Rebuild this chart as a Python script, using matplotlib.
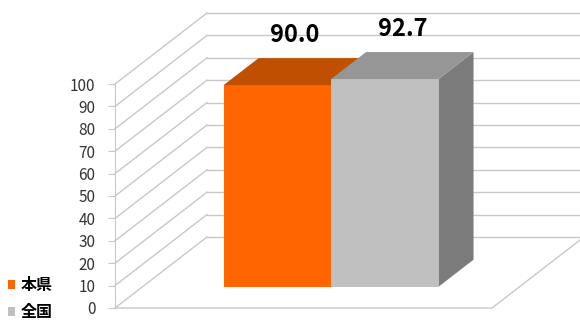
import matplotlib
matplotlib.use('Agg')
import matplotlib.pyplot as plt
from matplotlib.patches import Polygon, Rectangle

plt.rcParams['font.family'] = ['Noto Sans CJK JP', 'DejaVu Sans']

# データ
series = ['本県', '全国']
values = [90.0, 92.7]
labels = ['90.0', '92.7']
yticks = [0, 10, 20, 30, 40, 50, 60, 70, 80, 90, 100]

front_colors = ['#FF6600', '#C0C0C0']
top_colors = ['#C05000', '#969696']
side_colors = ['#C05000', '#7B7B7B']
grid_color = '#C8C8C8'

# 奥行き (x軸単位, 値単位)
DX = 92 / 377
DY = 31.7
f0, f1 = 0.30, 0.68   # 棒の奥行き位置
bar_w = 0.285

fig = plt.figure(figsize=(5.8, 3.2), dpi=100)
fig.patch.set_facecolor('white')
ax = fig.add_axes([115 / 580, 12 / 320, 377 / 580, 224 / 320])
ax.set_xlim(0, 1)
ax.set_ylim(0, 100)

# 壁と床
for v in yticks:
    ax.plot([0, DX], [v, v + DY], color=grid_color, lw=1, clip_on=False, zorder=0)
    ax.plot([DX, 1 + DX], [v + DY, v + DY], color=grid_color, lw=1, clip_on=False, zorder=0)
ax.plot([0, 1, 1 + DX], [0, 0, DY], color=grid_color, lw=1, clip_on=False, zorder=0)

# 棒
for i, (val, lab) in enumerate(zip(values, labels)):
    x0 = 0.5 - bar_w + i * bar_w
    x1 = x0 + bar_w
    ox0, oy0 = f0 * DX, f0 * DY
    ox1, oy1 = f1 * DX, f1 * DY
    front = Rectangle((x0 + ox0, oy0), bar_w, val, facecolor=front_colors[i],
                      edgecolor='none', clip_on=False, zorder=2 + i)
    top = Polygon([(x0 + ox0, val + oy0), (x1 + ox0, val + oy0),
                   (x1 + ox1, val + oy1), (x0 + ox1, val + oy1)],
                  facecolor=top_colors[i], edgecolor='none', clip_on=False, zorder=2 + i)
    side = Polygon([(x1 + ox0, oy0), (x1 + ox1, oy1),
                    (x1 + ox1, val + oy1), (x1 + ox0, val + oy0)],
                   facecolor=side_colors[i], edgecolor='none', clip_on=False, zorder=2 + i)
    ax.add_patch(side)
    ax.add_patch(front)
    ax.add_patch(top)
    cx = (x0 + x1) / 2 + (ox0 + ox1) / 2
    ax.text(cx, val + oy1 + 5, lab, ha='center', va='bottom', fontsize=17,
            fontweight='bold', color='black', clip_on=False)

# 軸
for s in ['top', 'right', 'bottom']:
    ax.spines[s].set_visible(False)
ax.spines['left'].set_color(grid_color)
ax.set_facecolor('none')
ax.set_xticks([])
ax.set_yticks(yticks)
ax.tick_params(axis='y', length=5, color=grid_color, labelsize=11,
               labelcolor='#333333', pad=9)

# 凡例
handles = [Rectangle((0, 0), 1, 1, facecolor=c, edgecolor='none') for c in front_colors]
leg = fig.legend(handles, series, loc='upper left', bbox_to_anchor=(8 / 580, 1 - 277 / 320),
                 frameon=False, fontsize=11.5, handlelength=0.45, handleheight=0.45,
                 handletextpad=0.35, labelspacing=0.7, borderpad=0, borderaxespad=0)
for t in leg.get_texts():
    t.set_fontweight('bold')

fig.savefig('out.png', dpi=100, facecolor='white')
